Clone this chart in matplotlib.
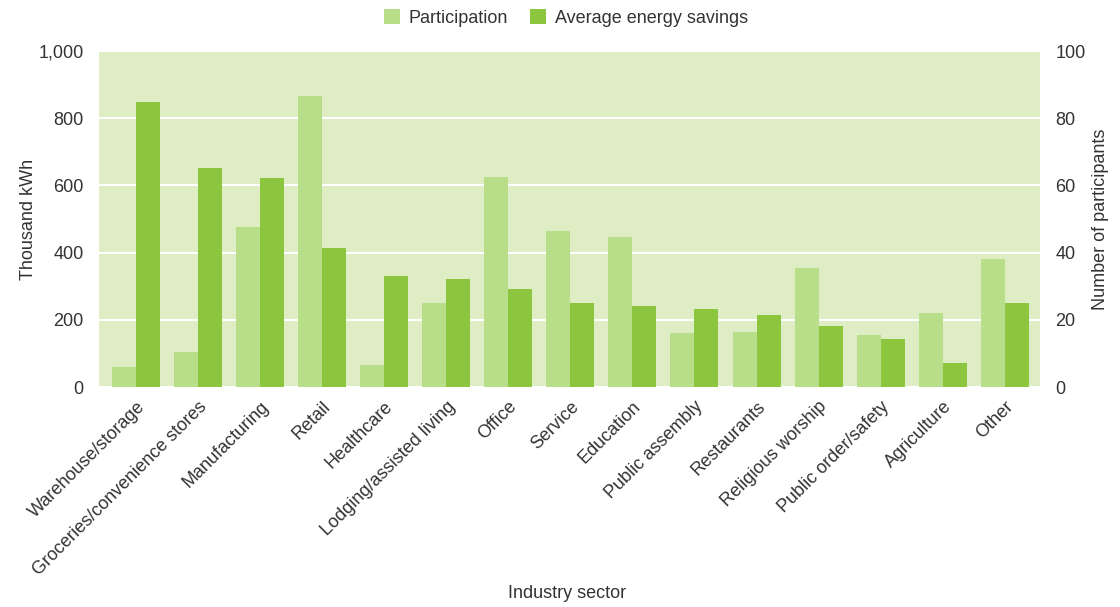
import matplotlib.pyplot as plt
import numpy as np

# data
sectors = ["Warehouse/storage", "Groceries/convenience stores", "Manufacturing", "Retail",
           "Healthcare", "Lodging/assisted living", "Office", "Service", "Education",
           "Public assembly", "Restaurants", "Religious worship", "Public order/safety",
           "Agriculture", "Other"]
participants = [6, 10.5, 47.5, 86.5, 6.5, 25, 62.5, 46.5, 44.7, 16, 16.5, 35.3, 15.5, 22, 38]
savings = [848, 653, 623, 414, 331, 322, 293, 251, 242, 232, 213, 183, 143, 72, 251]

plt.rcParams['font.family'] = ['Liberation Sans Narrow', 'Liberation Sans', 'DejaVu Sans']
text_color = "#333333"
light = "#b9de8a"
dark = "#8cc63f"
fs = 13

fig = plt.figure(figsize=(11.2, 6.07), dpi=100)
ax = fig.add_axes([99/1120, 1 - 387/607, (1040 - 99)/1120, (387 - 51)/607])
ax2 = ax.twinx()

x = np.arange(len(sectors))
w = 0.387

ax.set_facecolor("#deedc4")
ax.set_ylim(0, 1000)
ax2.set_ylim(0, 100)
ax.set_yticks(range(0, 1001, 200))
ax.set_yticklabels(["0", "200", "400", "600", "800", "1,000"])
ax2.set_yticks(range(0, 101, 20))
ax.grid(axis="y", color="white", linewidth=1.5)
ax.set_axisbelow(True)

b1 = ax2.bar(x - w/2, participants, width=w, color=light, label="Participation", zorder=3)
b2 = ax.bar(x + w/2, savings, width=w, color=dark, label="Average energy savings", zorder=3)
ax.set_xlim(-0.6, len(sectors) - 1 + 0.57)

ax.set_xticks(x)
ax.set_xticklabels(sectors, rotation=45, ha="right", rotation_mode="anchor")
for a in (ax, ax2):
    for s in a.spines.values():
        s.set_visible(False)
    a.tick_params(length=0, labelsize=fs, colors=text_color, pad=11)
ax.tick_params(axis="x", pad=8)

ax.set_ylabel("Thousand kWh", fontsize=fs, color=text_color, labelpad=1)
ax2.set_ylabel("Number of participants", fontsize=fs, color=text_color, labelpad=5)
ax.set_xlabel("Industry sector", fontsize=fs, color=text_color)
ax.xaxis.set_label_coords((567 - 99)/941, -(585 - 387)/336)

fig.legend([b1, b2], ["Participation", "Average energy savings"], loc="center",
           bbox_to_anchor=(566/1120, 1 - 18/607), ncol=2, frameon=False, fontsize=fs,
           handlelength=0.9, handleheight=0.9, columnspacing=1.2, handletextpad=0.5,
           labelcolor=text_color)

fig.savefig("out.png", dpi=100)
